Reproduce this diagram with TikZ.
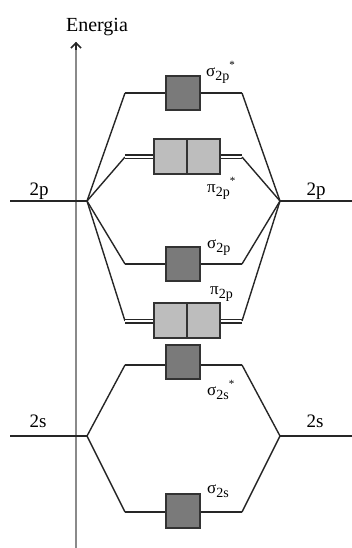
\documentclass[tikz,border=0pt]{standalone}
\usepackage{fontspec}
\setmainfont{Liberation Serif}
\usetikzlibrary{arrows.meta}
\definecolor{lvlc}{HTML}{262626}
\definecolor{boxc}{HTML}{333333}
\definecolor{darkfill}{HTML}{7A7A7A}
\definecolor{lightfill}{HTML}{BDBDBD}
\definecolor{axisc}{HTML}{8A8A8A}
\newcommand{\molab}[3]{{\fontsize{17}{17}\selectfont #1}\raisebox{-4pt}{\fontsize{14}{14}\selectfont #2}\raisebox{8pt}{\fontsize{11}{11}\selectfont #3}}
\begin{document}
\begin{tikzpicture}[x=1pt,y=-1pt,
  lvl/.style={line width=2pt, draw=lvlc},
  conn/.style={line width=1.4pt, draw=lvlc},
  dline/.style={line width=1.2pt, draw=lvlc, double=white, double distance=2.6pt},
  dbox/.style={draw=boxc, line width=1.3pt, fill=darkfill, minimum width=34pt, minimum height=34pt, inner sep=0pt},
  lbox/.style={draw=boxc, line width=1.3pt, fill=lightfill, minimum width=33pt, minimum height=35pt, inner sep=0pt},
  lab/.style={font=\fontsize{19}{19}\selectfont, inner sep=0pt, anchor=base},
  mo/.style={inner sep=0pt, anchor=base west},
  axis/.style={line width=1.4pt, draw=axisc}]
\useasboundingbox (0,0) rectangle (352,548);

% energy axis
\coordinate (axb) at (76,548);
\coordinate (axt) at (76,42);
\draw[axis] (axb) -- (axt);
\draw[line width=1.5pt, draw=lvlc, -{Straight Barb[length=5pt,width=10pt,line width=1.5pt]}] (76,50) -- (axt);
\node[lab, font=\fontsize{20}{20}\selectfont] (en) at (97,32) {Energia};

% atomic levels
\coordinate (L2pa) at (10,201);  \coordinate (L2p) at (87,201);
\coordinate (R2pa) at (352,201); \coordinate (R2p) at (280,201);
\coordinate (L2sa) at (10,436);  \coordinate (L2s) at (87,436);
\coordinate (R2sa) at (352,436); \coordinate (R2s) at (280,436);
\draw[lvl] (L2pa) -- (L2p);
\draw[lvl] (R2p) -- (R2pa);
\draw[lvl] (L2sa) -- (L2s);
\draw[lvl] (R2s) -- (R2sa);
\node[lab] (t2pl) at (39,195) {2p};
\node[lab] (t2pr) at (316,195) {2p};
\node[lab] (t2sl) at (38,427) {2s};
\node[lab] (t2sr) at (315,427) {2s};

% level end points
\coordinate (spsL) at (125,93);  \coordinate (spsR) at (242,93);
\coordinate (ppsL) at (125,157); \coordinate (ppsR) at (242,157);
\coordinate (spL)  at (125,264); \coordinate (spR)  at (242,264);
\coordinate (ppL)  at (125,321); \coordinate (ppR)  at (242,321);
\coordinate (sssL) at (125,365); \coordinate (sssR) at (242,365);
\coordinate (ssL)  at (125,512); \coordinate (ssR)  at (242,512);

% sigma 2p*
\draw[conn] (L2p) -- (spsL);
\draw[lvl] (spsL) -- (spsR);
\draw[conn] (spsR) -- (R2p);
% pi 2p*
\draw[conn] (L2p) -- (ppsL);
\draw[dline] (ppsL) -- (ppsR);
\draw[conn] (ppsR) -- (R2p);
% sigma 2p
\draw[conn] (L2p) -- (spL);
\draw[lvl] (spL) -- (spR);
\draw[conn] (spR) -- (R2p);
% pi 2p
\draw[conn] (L2p) -- (ppL);
\draw[dline] (ppL) -- (ppR);
\draw[conn] (ppR) -- (R2p);
% sigma 2s*
\draw[conn] (L2s) -- (sssL);
\draw[lvl] (sssL) -- (sssR);
\draw[conn] (sssR) -- (R2s);
% sigma 2s
\draw[conn] (L2s) -- (ssL);
\draw[lvl] (ssL) -- (ssR);
\draw[conn] (ssR) -- (R2s);

% boxes
\node[dbox] (bsps) at (183,93) {};
\node[lbox] (bppsA) at (170.5,156.5) {};
\node[lbox] (bppsB) at (203.5,156.5) {};
\node[dbox] (bsp) at (183,264) {};
\node[lbox] (bppA) at (170.5,320.5) {};
\node[lbox] (bppB) at (203.5,320.5) {};
\node[dbox] (bsss) at (183,362) {};
\node[dbox] (bss) at (183,511) {};

% labels
\node[mo] (lsps) at (206,77)  {\molab{σ}{2p}{*}};
\node[mo] (lpps) at (207,192) {\molab{π}{2p}{*}};
\node[mo] (lsp)  at (207,248) {\molab{σ}{2p}{}};
\node[mo] (lpp)  at (210,294) {\molab{π}{2p}{}};
\node[mo] (lsss) at (207,395) {\molab{σ}{2s}{*}};
\node[mo] (lss)  at (207,493) {\molab{σ}{2s}{}};
\end{tikzpicture}
\end{document}
